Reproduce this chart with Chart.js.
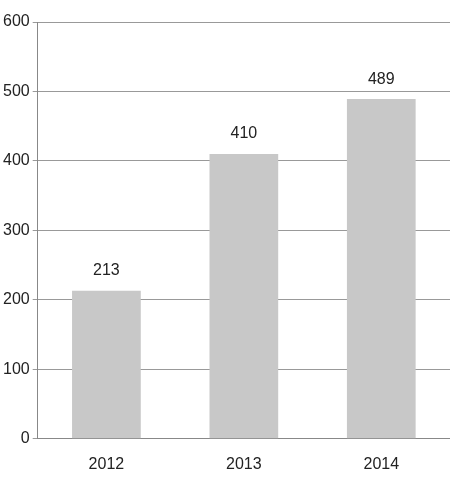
<!DOCTYPE html>
<html><head><meta charset="utf-8">
<script src="https://cdn.jsdelivr.net/npm/chart.js@4"></script>
<style>html,body{margin:0;padding:0;background:#fff}#w{width:450px;height:490px}</style>
</head><body><div id="w"><canvas id="c"></canvas></div>
<script>
const categories = ["2012","2013","2014"];
const values = [213, 410, 489];
const yTicks = [0,100,200,300,400,500,600];
const labelPlugin = {
  id:'lbl',
  afterDatasetsDraw(chart){
    const ctx=chart.ctx;
    chart.getDatasetMeta(0).data.forEach((b,i)=>{
      ctx.save();
      ctx.font='16px "Liberation Sans", Arial, sans-serif';
      ctx.fillStyle='#222';ctx.textAlign='center';ctx.textBaseline='bottom';
      ctx.fillText(values[i], b.x, b.y-12);
      ctx.restore();
    });
  }
};
new Chart(document.getElementById('c'),{
  type:'bar',
  data:{labels:categories,datasets:[{data:values,backgroundColor:'#c8c8c8',barPercentage:0.5,categoryPercentage:1}]},
  options:{
    responsive:true,maintainAspectRatio:false,animation:false,
    layout:{padding:{top:22,right:0,bottom:8,left:0}},
    plugins:{legend:{display:false},tooltip:{enabled:false}},
    scales:{
      x:{grid:{display:false},border:{color:'#888'},ticks:{color:'#222',font:{size:16,family:'"Liberation Sans", Arial'},padding:8}},
      y:{min:0,max:600,afterBuildTicks(a){a.ticks=yTicks.map(v=>({value:v}));},
         grid:{color:'#999',drawTicks:true,tickLength:5},border:{color:'#888'},
         ticks:{color:'#222',font:{size:16,family:'"Liberation Sans", Arial'},padding:3}}
    }
  },
  plugins:[labelPlugin]
});
</script></body></html>
